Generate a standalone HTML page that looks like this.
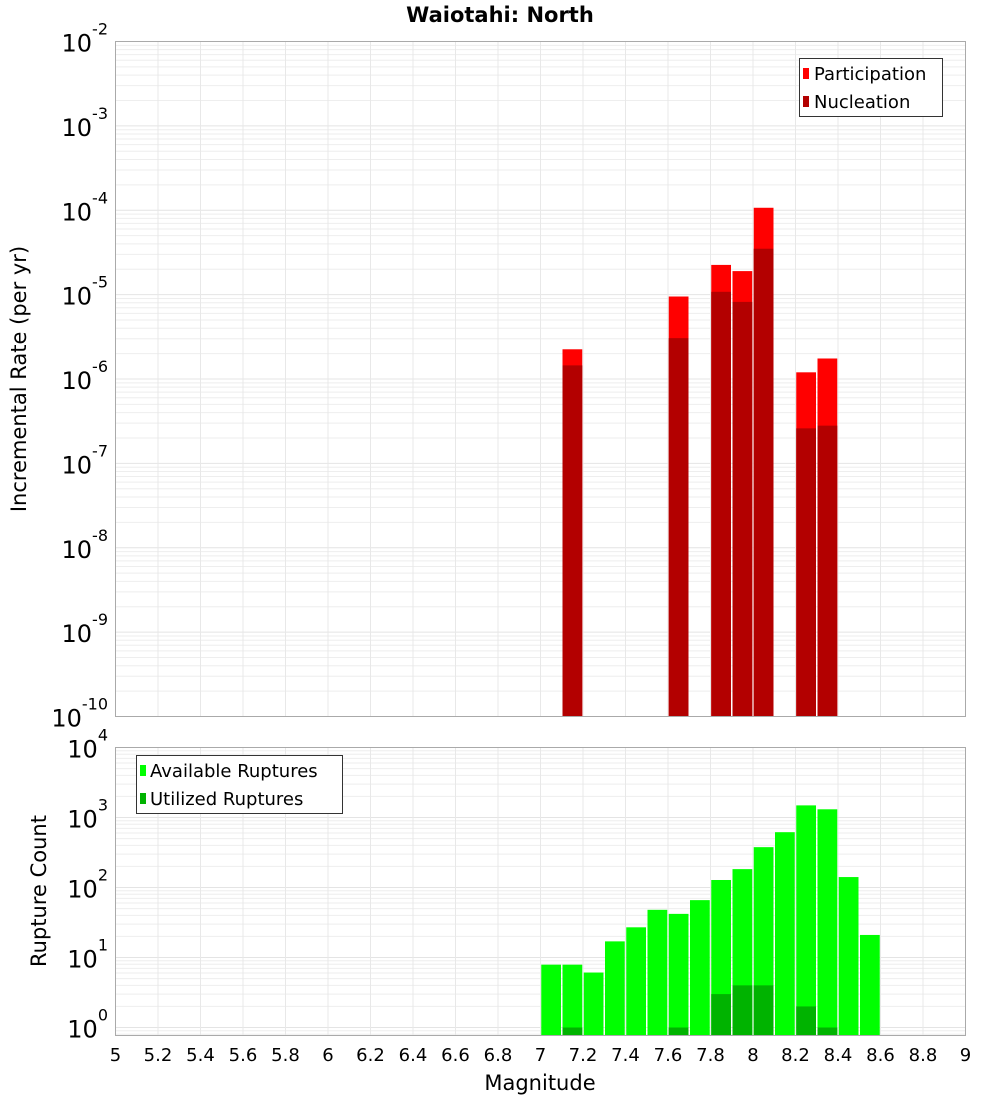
<!DOCTYPE html>
<html><head><meta charset="utf-8"><style>
body{margin:0;background:#fff;}
svg{display:block;font-family:"DejaVu Sans","Liberation Sans",sans-serif;}
</style></head><body>
<svg id="chart" width="1000" height="1100" xmlns="http://www.w3.org/2000/svg"></svg>
<script>
const magBins = [7.0,7.1,7.2,7.3,7.4,7.5,7.6,7.7,7.8,7.9,8.0,8.1,8.2,8.3,8.4,8.5];
const rateMags = [7.1,7.6,7.8,7.9,8.0,8.2,8.3];
const participation = [2.25e-6,9.5e-6,2.25e-5,1.9e-5,1.07e-4,1.2e-6,1.75e-6];
const nucleation = [1.45e-6,3.05e-6,1.08e-5,8.2e-6,3.5e-5,2.6e-7,2.8e-7];
const available = [7.9,7.9,6.1,17,27,48,42,66,128,183,377,617,1490,1310,141,21];
const utilized = [0,1,0,0,0,0,1,0,3,4,4,0,2,1,0,0];
const xTicks = [5,5.2,5.4,5.6,5.8,6,6.2,6.4,6.6,6.8,7,7.2,7.4,7.6,7.8,8,8.2,8.4,8.6,8.8,9];
const topExps = [-2,-3,-4,-5,-6,-7,-8,-9,-10];
const botExps = [4,3,2,1,0];

const NS='http://www.w3.org/2000/svg';
const svg=document.getElementById('chart');
function el(tag,attrs,parent){const e=document.createElementNS(NS,tag);for(const k in attrs)e.setAttribute(k,attrs[k]);(parent||svg).appendChild(e);return e;}
const L=115.5,R=965.5;
const x=m=>L+(m-5)/4*(R-L);
const T1=41.5,B1=716.5;
const yTop=v=>T1+(-2-Math.log10(v))*(B1-T1)/8;
const T2=747.5,B2=1035.5;
const dec2=70;
const yBot=v=>T2+(4-Math.log10(v))*dec2;

function panel(top,bot,minExp,maxExp,name){
  const g=el('g',{});
  
  
  el('rect',{x:L,y:top,width:R-L,height:bot-top,fill:'#fff'},g);
  for(let e=minExp-1;e<=maxExp;e++){
    for(let k=1;k<10;k++){
      const v=k*Math.pow(10,e);
      const yy=name==='top'?yTop(v):yBot(v);
      if(yy<top||yy>bot)continue;
      el('line',{x1:L,x2:R,y1:yy,y2:yy,stroke:k===1?'#e4e4e4':'#eeeeee','stroke-width':1},g);
    }
  }
  xTicks.forEach(t=>{el('line',{x1:x(t),x2:x(t),y1:top,y2:bot,stroke:'#e8e8e8','stroke-width':1},g);});
}
panel(T1,B1,-10,-2,'top');
panel(T2,B2,0,4,'bottom');

// top bars
const bw=(x(5.1)-x(5))-1.5;
rateMags.forEach((m,i)=>{
  const b=el('rect',{x:x(m)+0.75,y:yTop(participation[i]),width:bw,height:B1-yTop(participation[i]),fill:'#ff0000'});
  
  
  const n=el('rect',{x:x(m)+0.75,y:yTop(nucleation[i]),width:bw,height:B1-yTop(nucleation[i]),fill:'#b30000'});
  
  
});
// bottom bars
magBins.forEach((m,i)=>{
  const a=el('rect',{x:x(m)+0.75,y:yBot(available[i]),width:bw,height:B2-yBot(available[i]),fill:'#00ff00'});
  
  
  if(utilized[i]>0){
    const u=el('rect',{x:x(m)+0.75,y:yBot(utilized[i]),width:bw,height:B2-yBot(utilized[i]),fill:'#00b300'});
    
    
  }
});
// frames
el('rect',{x:L,y:T1,width:R-L,height:B1-T1,fill:'none',stroke:'#aaaaaa','stroke-width':1});
el('rect',{x:L,y:T2,width:R-L,height:B2-T2,fill:'none',stroke:'#aaaaaa','stroke-width':1});

// y tick labels
function expLabel(yy,e,name){
  const t=el('text',{x:108,y:yy+10,'text-anchor':'end','font-size':24,fill:'#000'});
  
  
  const s1=document.createElementNS(NS,'tspan');s1.textContent='10';t.appendChild(s1);
  const s2=document.createElementNS(NS,'tspan');s2.setAttribute('dy','-17');s2.setAttribute('font-size','16');s2.textContent=String(e);t.appendChild(s2);
}
topExps.forEach(e=>expLabel(yTop(Math.pow(10,e)),e,'top-y-tick-label'));
botExps.forEach(e=>expLabel(yBot(Math.pow(10,e)),e,'bottom-y-tick-label'));
// x tick labels
xTicks.forEach(t=>{
  const tx=el('text',{x:x(t),y:1061,'text-anchor':'middle','font-size':18,fill:'#000'});
  
  
  tx.textContent=String(t);
});
</script>
<svg style="position:absolute;left:0;top:0" width="1000" height="1100" xmlns="http://www.w3.org/2000/svg">
<text x="500" y="22" text-anchor="middle" font-size="21" font-weight="bold" fill="#000">Waiotahi: North</text>
<text transform="translate(26,379) rotate(-90)" text-anchor="middle" font-size="21" fill="#000">Incremental Rate (per yr)</text>
<text transform="translate(46,891) rotate(-90)" text-anchor="middle" font-size="21" fill="#000">Rupture Count</text>
<text x="540" y="1090" text-anchor="middle" font-size="21" fill="#000">Magnitude</text>
<g>
<rect x="799.5" y="58.5" width="143" height="58" fill="#fff" stroke="#333" stroke-width="1"/>
<rect x="803" y="68" width="6" height="11" fill="#ff0000"/>
<text x="814" y="80" font-size="18" fill="#000">Participation</text>
<rect x="803" y="96" width="6" height="11" fill="#b30000"/>
<text x="814" y="108" font-size="18" fill="#000">Nucleation</text>
</g>
<g>
<rect x="136.5" y="755.5" width="206" height="58" fill="#fff" stroke="#333" stroke-width="1"/>
<rect x="140" y="765" width="6" height="11" fill="#00ff00"/>
<text x="150" y="777" font-size="18" fill="#000">Available Ruptures</text>
<rect x="140" y="793" width="6" height="11" fill="#00b300"/>
<text x="150" y="805" font-size="18" fill="#000">Utilized Ruptures</text>
</g>
</svg>
</body></html>
